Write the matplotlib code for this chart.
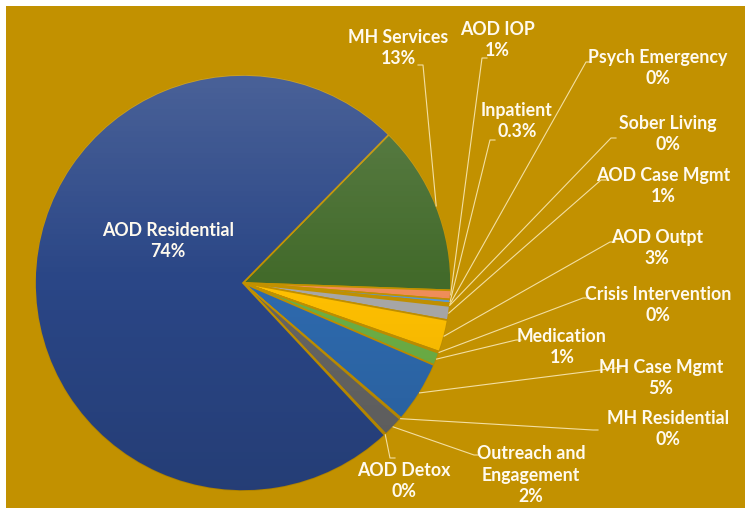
import numpy as np
import matplotlib
matplotlib.use("Agg")
import matplotlib.pyplot as plt
from matplotlib.patches import Rectangle

# Program spending breakdown (clockwise from MH Services)
categories = [
    "MH Services", "AOD IOP", "Inpatient", "Psych Emergency", "Sober Living",
    "AOD Case Mgmt", "AOD Outpt", "Crisis Intervention", "Medication",
    "MH Case Mgmt", "MH Residential", "Outreach and\nEngagement", "AOD Detox",
    "AOD Residential",
]
shares = [13.2, 0.7, 0.3, 0.1, 0.1, 1.1, 2.5, 0.1, 1.0, 4.8, 0.1, 1.6, 0.1, 74.3]
pct_labels = ["13%", "1%", "0.3%", "0%", "0%", "1%", "3%", "0%", "1%",
              "5%", "0%", "2%", "0%", "74%"]

colors = ["#426A2A", "#F08E5A", "#5B9BD5", "#5B9BD5", "#A5A5A5", "#A8A8A8",
          "#FFC000", "#70AD47", "#6DB046", "#2E6AAE", "#636363", "#666666",
          "#5A5A5A", "#2A4686"]

# label centres and leader line anchors, in image pixels (x, y from top)
label_pos = [(398, 48), (497, 40), (517, 121), (658, 68), (668, 134),
             (663, 186), (657, 248), (658, 305), (562, 347), (661, 378),
             (668, 429), (531, 475), (404, 481), (168, 241)]
anchors = [(423, 65), (482, 58), (490, 140), (586, 62), (611, 138),
           (601, 180), (610, 242), (583, 298), (516, 340), (616, 368),
           (593, 430), (474, 455), (390, 458), None]

W, H = 745, 508
gold = "#C29100"
line_col = "#F3DFA2"
text_col = "#FFFAEE"

fig = plt.figure(figsize=(W / 100, H / 100), dpi=100)
fig.patch.set_facecolor(gold)
# thin white margin on the top and left only
fig.add_artist(Rectangle((0, 0), 6 / W, 1, transform=fig.transFigure,
                         facecolor="white", edgecolor="none", zorder=0))
fig.add_artist(Rectangle((0, 1 - 6 / H), 1, 6 / H, transform=fig.transFigure,
                         facecolor="white", edgecolor="none", zorder=0))
ax = fig.add_axes([0, 0, 1, 1])
ax.patch.set_alpha(0)

cx, cy, r = 243, H - 283, 208
wedges, _ = ax.pie(shares, colors=colors, startangle=45.5, counterclock=False,
                   center=(cx, cy), radius=r, frame=True,
                   wedgeprops=dict(edgecolor=gold, linewidth=1.2))
ax.set_xlim(0, W)
ax.set_ylim(0, H)
ax.set_aspect("equal")
ax.axis("off")

# light-to-dark vertical shading on every slice
shade = np.zeros((256, 1, 4))
t = np.linspace(0, 1, 256)
shade[:, 0, :3] = np.where(t[:, None] < 0.5, 1.0, 0.0)
shade[:, 0, 3] = np.where(t < 0.5, 0.15 * (0.5 - t) * 2, 0.12 * (t - 0.5) * 2)
for w in wedges:
    im = ax.imshow(shade, extent=(cx - r, cx + r, cy - r, cy + r),
                   origin="upper", aspect="auto", zorder=w.get_zorder() + 0.1)
    im.set_clip_path(w)
ax.set_xlim(0, W)
ax.set_ylim(0, H)

for i, w in enumerate(wedges):
    name, pct = categories[i], pct_labels[i]
    lx, ly = label_pos[i]
    ax.text(lx, H - ly, f"{name}\n{pct}", ha="center", va="center",
            color=text_col, fontsize=12.8, fontweight="bold", family="Lato",
            linespacing=1.3, zorder=6)
    if anchors[i] is None:
        continue
    mid = np.deg2rad((w.theta1 + w.theta2) / 2)
    px, py = cx + r * np.cos(mid), cy + r * np.sin(mid)
    axp, ayp = anchors[i]
    hx = axp + 5 if axp < lx else axp - 5
    ax.plot([px, axp, hx], [py, H - ayp, H - ayp], color=line_col, lw=0.8, zorder=5)

fig.savefig("out.png", dpi=100, facecolor=fig.get_facecolor())
